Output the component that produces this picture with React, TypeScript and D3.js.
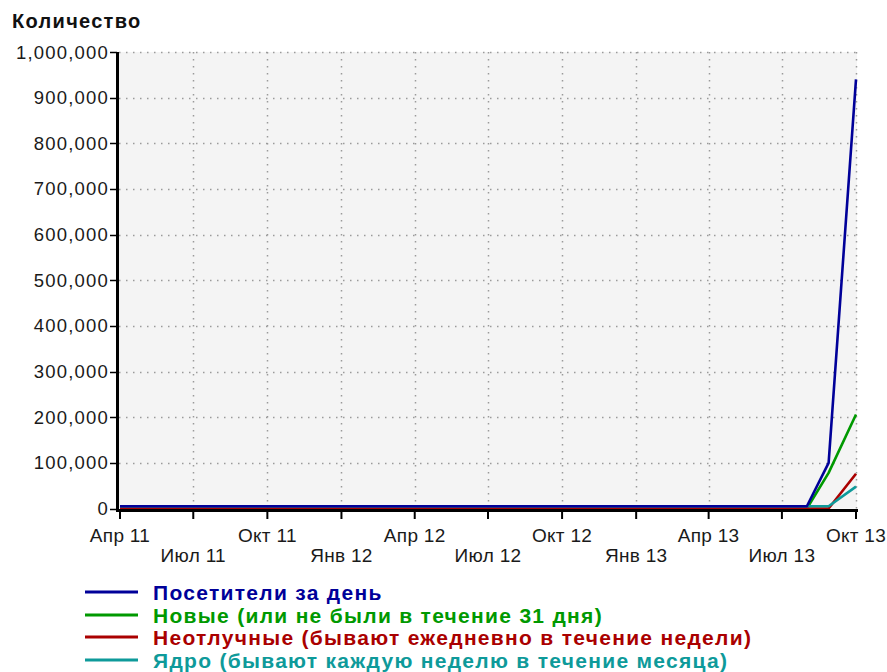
import React, { useEffect, useRef } from "react";
import * as d3 from "d3";

// dates of the data points (shared by all series)
const dates = [
  "2011-04-01", "2011-07-01", "2011-10-01", "2012-01-01", "2012-04-01",
  "2012-07-01", "2012-10-01", "2013-01-01", "2013-04-01", "2013-07-01",
  "2013-08-01", "2013-08-28", "2013-10-01",
];

const visitors = [5000, 5000, 5000, 5000, 5000, 5000, 5000, 5000, 5000, 5000, 5000, 100000, 940000];
const newcomers = [0, 0, 0, 0, 0, 0, 0, 0, 0, 0, 0, 78000, 206000];
const regulars = [0, 0, 0, 0, 0, 0, 0, 0, 0, 0, 0, 0, 76000];
const core = [5000, 5000, 5000, 5000, 5000, 5000, 5000, 5000, 5000, 5000, 5000, 5000, 48000];

const tickDates = [
  "2011-04-01", "2011-07-01", "2011-10-01", "2012-01-01", "2012-04-01", "2012-07-01",
  "2012-10-01", "2013-01-01", "2013-04-01", "2013-07-01", "2013-10-01",
];
const tickLabels = [
  "Апр 11", "Июл 11", "Окт 11", "Янв 12", "Апр 12", "Июл 12",
  "Окт 12", "Янв 13", "Апр 13", "Июл 13", "Окт 13",
];

const seriesNames = [
  "Посетители за день",
  "Новые (или не были в течение 31 дня)",
  "Неотлучные (бывают ежедневно в течение недели)",
  "Ядро (бывают каждую неделю в течение месяца)",
];
const seriesColors = ["#000099", "#009900", "#aa0000", "#0e9a9a"];
const seriesValues = [visitors, newcomers, regulars, core];

const W = 887, H = 672;
const FONT = "'Liberation Sans', Arial, sans-serif";

export default function App() {
  const ref = useRef<SVGSVGElement>(null);

  useEffect(() => {
    const svg = d3.select(ref.current);
    svg.selectAll("*").remove();

    const left = 119, right = 857, top = 52, zero = 508.5;
    const parse = d3.timeParse("%Y-%m-%d");
    const x = d3
      .scaleTime()
      .domain([parse("2011-04-01")!, parse("2013-10-01")!])
      .range([120, 856]);
    const y = d3.scaleLinear().domain([0, 1000000]).range([zero, top]);

    svg.append("rect").attr("width", W).attr("height", H).attr("fill", "#ffffff");

    svg
      .append("text")
      .attr("x", 12)
      .attr("y", 28)
      .attr("font-family", FONT)
      .attr("font-size", 20)
      .attr("font-weight", "bold")
      .attr("letter-spacing", 1.3)
      .attr("fill", "#111")
      .text("Количество");

    // plot background
    svg
      .append("rect")
      .attr("x", left)
      .attr("y", top)
      .attr("width", right - left)
      .attr("height", zero - top)
      .attr("fill", "#f4f4f4");

    const yTicks = y.ticks(10);
    const grid = svg.append("g").attr("stroke", "#9a9a9a").attr("stroke-width", 1.5).attr("stroke-dasharray", "1.5 5.5");
    grid
      .selectAll(".hgrid")
      .data(yTicks.filter((d) => d > 0))
      .join("line")
      .attr("x1", left)
      .attr("x2", right)
      .attr("y1", (d) => Math.round(y(d)) + 0.5)
      .attr("y2", (d) => Math.round(y(d)) + 0.5);
    grid
      .selectAll(".vgrid")
      .data(tickDates.slice(1))
      .join("line")
      .attr("x1", (d) => Math.round(x(parse(d)!)) + 0.5)
      .attr("x2", (d) => Math.round(x(parse(d)!)) + 0.5)
      .attr("y1", top)
      .attr("y2", zero);

    // series lines
    const order = [1, 2, 3, 0];
    order.forEach((i) => {
      const vals = seriesValues[i];
      const pts = dates.map((d, k) => [x(parse(d)!), y(vals[k])] as [number, number]);
      svg
        .append("path")
        .attr("d", d3.line()(pts))
        .attr("fill", "none")
        .attr("stroke", seriesColors[i])
        .attr("stroke-width", 2.6)
        .attr("stroke-linejoin", "round");
    });

    // axes
    svg
      .append("line")
      .attr("x1", 117.5)
      .attr("x2", 117.5)
      .attr("y1", top)
      .attr("y2", 512)
      .attr("stroke", "#000")
      .attr("stroke-width", 3);
    svg
      .append("line")
      .attr("x1", 116)
      .attr("x2", right + 1)
      .attr("y1", 510.5)
      .attr("y2", 510.5)
      .attr("stroke", "#000")
      .attr("stroke-width", 3);

    const yAxis = svg.append("g");
    yAxis
      .selectAll("line")
      .data(yTicks)
      .join("line")
      .attr("x1", 110)
      .attr("x2", 117)
      .attr("y1", (d) => Math.round(y(d)) + 0.5)
      .attr("y2", (d) => Math.round(y(d)) + 0.5)
      .attr("stroke", "#000")
      .attr("stroke-width", 1.5);
    yAxis
      .selectAll("text")
      .data(yTicks)
      .join("text")
      .attr("x", 109)
      .attr("y", (d) => y(d) + 6.5)
      .attr("text-anchor", "end")
      .attr("font-family", FONT)
      .attr("font-size", 18.5)
      .attr("letter-spacing", 1.2)
      .attr("fill", "#1a1a1a")
      .text((d) => d3.format(",")(d));

    const xAxis = svg.append("g");
    xAxis
      .selectAll("line")
      .data(tickDates)
      .join("line")
      .attr("x1", (d) => x(parse(d)!))
      .attr("x2", (d) => x(parse(d)!))
      .attr("y1", 511)
      .attr("y2", 519)
      .attr("stroke", "#000")
      .attr("stroke-width", 2);
    xAxis
      .selectAll("text")
      .data(tickDates)
      .join("text")
      .attr("x", (d) => x(parse(d)!))
      .attr("y", (d, i) => (i % 2 === 0 ? 542 : 562))
      .attr("text-anchor", "middle")
      .attr("font-family", FONT)
      .attr("font-size", 19)
      .attr("letter-spacing", 0.3)
      .attr("fill", "#1a1a1a")
      .text((d, i) => tickLabels[i]);

    // legend
    const legend = svg.append("g");
    const rows = [592, 615, 637, 660];
    seriesNames.forEach((name, i) => {
      legend
        .append("line")
        .attr("x1", 85)
        .attr("x2", 138)
        .attr("y1", rows[i])
        .attr("y2", rows[i])
        .attr("stroke", seriesColors[i])
        .attr("stroke-width", 3);
      legend
        .append("text")
        .attr("x", 153)
        .attr("y", rows[i] + 7.5)
        .attr("font-family", FONT)
        .attr("font-size", 21)
        .attr("font-weight", "bold")
        .attr("letter-spacing", 1.3)
        .attr("fill", seriesColors[i])
        .text(name);
    });
  }, []);

  return (
    <svg
      ref={ref}
      width={W}
      height={H}
      style={{ position: "absolute", left: 0, top: 0, display: "block" }}
    />
  );
}
